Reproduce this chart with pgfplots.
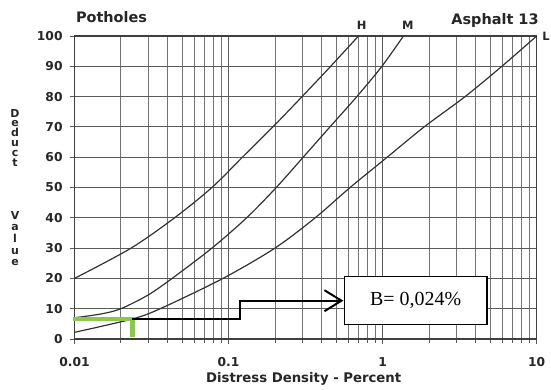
\documentclass[border=0pt]{standalone}
\usepackage{pgfplots}
\pgfplotsset{compat=1.18}
\usepackage{fontspec}
\setmainfont{DejaVu Sans}
\newfontfamily\serif{Liberation Serif}
\usetikzlibrary{arrows.meta}
\definecolor{grn}{RGB}{140,200,80}
\definecolor{crv}{RGB}{50,50,50}
\definecolor{grd}{RGB}{90,90,90}
\begin{document}
\begin{tikzpicture}[x=1bp,y=1bp]
\useasboundingbox (0,0) rectangle (551,389);
\begin{axis}[
  at={(74.5bp,50bp)}, anchor=south west,
  scale only axis, width=462.2bp, height=303bp,
  xmode=log, xmin=0.01, xmax=10, ymin=0, ymax=100,
  xtick={0.01,0.1,1,10}, xticklabels={0.01,0.1,1,10},
  ytick={0,10,...,100}, yticklabels={0,10,20,30,40,50,60,70,80,90,100},
  grid=both,
  major grid style={line width=1.2bp, grd},
  minor grid style={line width=0.8bp, grd!85},
  axis line style={line width=1.2bp, grd!70!black},
  tick pos=left, tick align=outside,
  major tick length=5bp, minor tick length=4bp,
  tick style={line width=0.9bp, grd},
  tick label style={font=\bfseries\fontsize{12.3}{13}\selectfont, inner sep=0pt, text=black!85},
  xticklabel style={anchor=north, yshift=-13bp},
  yticklabel style={anchor=east, xshift=-6.8bp},
  clip=false,
]
\addplot[crv, line width=1.2bp, smooth] coordinates {(0.01,20) (0.0233,30) (0.0446,40) (0.078,50) (0.123,60) (0.194,70) (0.30,80) (0.46,90) (0.697,100)};
\addplot[crv, line width=1.2bp, smooth] coordinates {(0.01,7) (0.015,8.3) (0.02,10) (0.03,14.5) (0.043,20) (0.078,30) (0.131,40) (0.204,50) (0.305,60) (0.455,70) (0.68,80) (0.989,90) (1.365,100)};
\addplot[crv, line width=1.2bp, smooth] coordinates {(0.01,2.2) (0.0237,6.6) (0.036,10) (0.092,20) (0.20,30) (0.365,40) (0.615,50) (1.07,60) (1.86,70) (3.43,80) (5.94,90) (10,100)};
\addplot[grn, line width=4.7bp, line join=miter, line cap=butt] coordinates {(0.00973,6.6) (0.0239,6.6) (0.0239,0.8)};
\addplot[black, line width=2bp, line join=miter, -{Straight Barb[length=17bp,width=21bp,line width=2bp]}] coordinates {(0.0237,6.7) (0.1188,6.7) (0.1188,12.64) (0.556,12.64)};
\draw[line width=1.5bp, fill=white] (axis cs:0.565,4.79) rectangle (axis cs:4.75,20.56);
\node[font=\serif\fontsize{20}{20}\selectfont] at (axis cs:1.638,12.67) {B= 0,024\%};
\end{axis}
\begin{scope}[every node/.style={text=black!85, inner sep=0pt}]
\node[font=\bfseries\fontsize{14.5}{15}\selectfont, anchor=base] at (111.5,366.3) {Potholes};
\node[font=\bfseries\fontsize{14.5}{15}\selectfont, anchor=base] at (495,365) {Asphalt 13};
\node[font=\bfseries\fontsize{11.5}{12}\selectfont, anchor=base] at (361.7,360) {H};
\node[font=\bfseries\fontsize{11.5}{12}\selectfont, anchor=base] at (407.7,360) {M};
\node[font=\bfseries\fontsize{11.5}{12}\selectfont, anchor=base] at (546,349) {L};
\node[font=\bfseries\fontsize{13.3}{14}\selectfont, anchor=base] at (303.7,6.3) {Distress Density - Percent};
\foreach \l [count=\i] in {D,e,d,u,c,t}
  \node[font=\bfseries\fontsize{11}{12}\selectfont, anchor=base] at (15,{272-(\i-1)*9.8}) {\l};
\foreach \l [count=\i] in {V,a,l,u,e}
  \node[font=\bfseries\fontsize{11}{12}\selectfont, anchor=base] at (15,{170-(\i-1)*11.7}) {\l};
\end{scope}
\end{tikzpicture}
\end{document}
